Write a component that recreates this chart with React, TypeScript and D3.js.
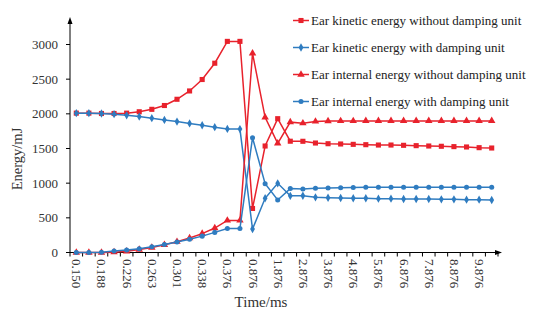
import React from "react";
import * as d3 from "d3";

const timeLabels: string[] = [
  "0.150", "0.169", "0.188", "0.207", "0.226", "0.245", "0.263", "0.282",
  "0.301", "0.320", "0.338", "0.357", "0.376", "0.626", "0.876", "1.376",
  "1.876", "2.376", "2.876", "3.376", "3.876", "4.376", "4.876", "5.376",
  "5.876", "6.376", "6.876", "7.376", "7.876", "8.376", "8.876", "9.376",
  "9.876", "10.376",
];

const kineticNoDamp: number[] = [
  2010, 2010, 2005, 2005, 2010, 2030, 2065, 2120, 2210, 2330, 2495, 2730, 3045, 3045,
  635, 1536, 1930, 1605, 1604, 1579, 1569, 1565, 1560, 1555, 1550, 1550, 1546, 1541,
  1536, 1532, 1527, 1522, 1512, 1507,
];

const kineticDamp: number[] = [
  2010, 2010, 2005, 1995, 1978, 1960, 1938, 1912, 1888, 1862, 1835, 1808, 1783, 1780,
  339, 782, 998, 817, 819, 796, 790, 786, 782, 782, 776, 776, 772, 772,
  772, 767, 767, 762, 762, 757,
];

const internalNoDamp: number[] = [
  0, 0, 0, 5, 18, 42, 72, 112, 156, 209, 272, 353, 462, 462,
  2873, 1950, 1575, 1880, 1865, 1890, 1895, 1897, 1897, 1898, 1898, 1898, 1898, 1898,
  1898, 1898, 1898, 1898, 1898, 1898,
];

const internalDamp: number[] = [
  0, 0, 3, 22, 36, 55, 82, 116, 150, 190, 236, 290, 347, 347,
  1656, 993, 757, 922, 916, 926, 930, 935, 938, 940, 940, 940, 940, 940,
  940, 940, 940, 940, 940, 940,
];

const yTicks: number[] = [0, 500, 1000, 1500, 2000, 2500, 3000];

const RED = "#e8222c";
const BLUE = "#2f7cc0";

type SeriesDef = { name: string; values: number[]; color: string; marker: string };

const series: SeriesDef[] = [
  { name: "Ear kinetic energy without damping unit", values: kineticNoDamp, color: RED, marker: "square" },
  { name: "Ear kinetic energy with damping unit", values: kineticDamp, color: BLUE, marker: "diamond" },
  { name: "Ear internal energy without damping unit", values: internalNoDamp, color: RED, marker: "triangle" },
  { name: "Ear internal energy with damping unit", values: internalDamp, color: BLUE, marker: "circle" },
];

const FONT = "'Liberation Serif', 'Times New Roman', serif";

function Marker({ kind, x, y, color }: { kind: string; x: number; y: number; color: string }) {
  if (kind === "square") {
    const path = d3.symbol().type(d3.symbolSquare).size(26)();
    return <path d={path || ""} transform={`translate(${x},${y})`} fill={color} />;
  }
  if (kind === "triangle") {
    const path = d3.symbol().type(d3.symbolTriangle).size(24)();
    return <path d={path || ""} transform={`translate(${x},${y})`} fill={color} />;
  }
  if (kind === "diamond") {
    const path = d3.symbol().type(d3.symbolDiamond).size(20)();
    return <path d={path || ""} transform={`translate(${x},${y})`} fill={color} />;
  }
  const path = d3.symbol().type(d3.symbolCircle).size(20)();
  return <path d={path || ""} transform={`translate(${x},${y})`} fill={color} />;
}

export default function App() {
  const W = 550;
  const H = 323;
  const x0 = 70;
  const x1 = 498;
  const yBottom = 252.5;

  const xBand = d3.scaleBand<number>()
    .domain(timeLabels.map((_, i) => i))
    .range([x0, x1])
    .paddingInner(0)
    .paddingOuter(0);
  const bw = xBand.bandwidth();
  const cx = (i: number) => (xBand(i) as number) + bw / 2;

  const y = d3.scaleLinear().domain([0, 3000]).range([yBottom, 44.5]);

  const line = d3.line<number>()
    .x((_, i) => cx(i))
    .y((v) => y(v));

  const boundaries = d3.range(timeLabels.length + 1).map((i) =>
    i < timeLabels.length ? (xBand(i) as number) : x1
  );

  const legendY = [20.5, 47.5, 74.5, 101.5];

  return (
    <svg
      width={W}
      height={H}
      style={{ position: "absolute", left: 0, top: 0, background: "#fff" }}
      fontFamily={FONT}
    >
      <rect x={0} y={0} width={W} height={H} fill="#fff" />

      {/* Y axis */}
      <line x1={x0} y1={yBottom} x2={x0} y2={20} stroke="#000" strokeWidth={1} />
      <path d={`M${x0 - 2.5},${24} L${x0},${17} L${x0 + 2.5},${24} Z`} fill="#000" />
      {yTicks.map((t) => (
        <g key={t}>
          <line x1={x0 - 4} x2={x0} y1={y(t)} y2={y(t)} stroke="#000" />
          <text x={58} y={y(t) + 4.5} fontSize={13} textAnchor="end" fill="#333">
            {t}
          </text>
        </g>
      ))}

      {/* X axis */}
      <line x1={x0} y1={yBottom} x2={x1 + 1} y2={yBottom} stroke="#000" strokeWidth={1} />
      <path d={`M${x1 - 3},${yBottom - 2.5} L${x1 + 4},${yBottom} L${x1 - 3},${yBottom + 2.5} Z`} fill="#000" />
      {boundaries.map((bx, i) => (
        <line key={i} x1={bx} x2={bx} y1={yBottom} y2={yBottom + 4} stroke="#000" />
      ))}
      {timeLabels.map((lab, i) =>
        i % 2 === 0 && i <= 32 ? (
          <text
            key={lab}
            transform={`translate(${cx(i) - 4},${259}) rotate(90)`}
            fontSize={13}
            textAnchor="start"
            fill="#333"
          >
            {lab}
          </text>
        ) : null
      )}

      {/* Axis titles */}
      <text
        transform={`translate(${22},${159}) rotate(-90)`}
        fontSize={14.5}
        textAnchor="middle"
        fill="#333"
      >
        Energy/mJ
      </text>
      <text x={261} y={307} fontSize={15} textAnchor="middle" fill="#333">
        Time/ms
      </text>

      {/* Series */}
      {series.map((s) => (
        <g key={s.name}>
          <path d={line(s.values) || ""} fill="none" stroke={s.color} strokeWidth={1.5} />
          {s.values.map((v, i) => (
            <Marker key={i} kind={s.marker} x={cx(i)} y={y(v)} color={s.color} />
          ))}
        </g>
      ))}

      {/* Legend */}
      {series.map((s, k) => (
        <g key={s.name}>
          <line x1={293} x2={309} y1={legendY[k]} y2={legendY[k]} stroke={s.color} strokeWidth={1.5} />
          <Marker kind={s.marker} x={301} y={legendY[k]} color={s.color} />
          <text x={311} y={legendY[k] + 4.5} fontSize={13} fill="#222">
            {s.name}
          </text>
        </g>
      ))}
    </svg>
  );
}
